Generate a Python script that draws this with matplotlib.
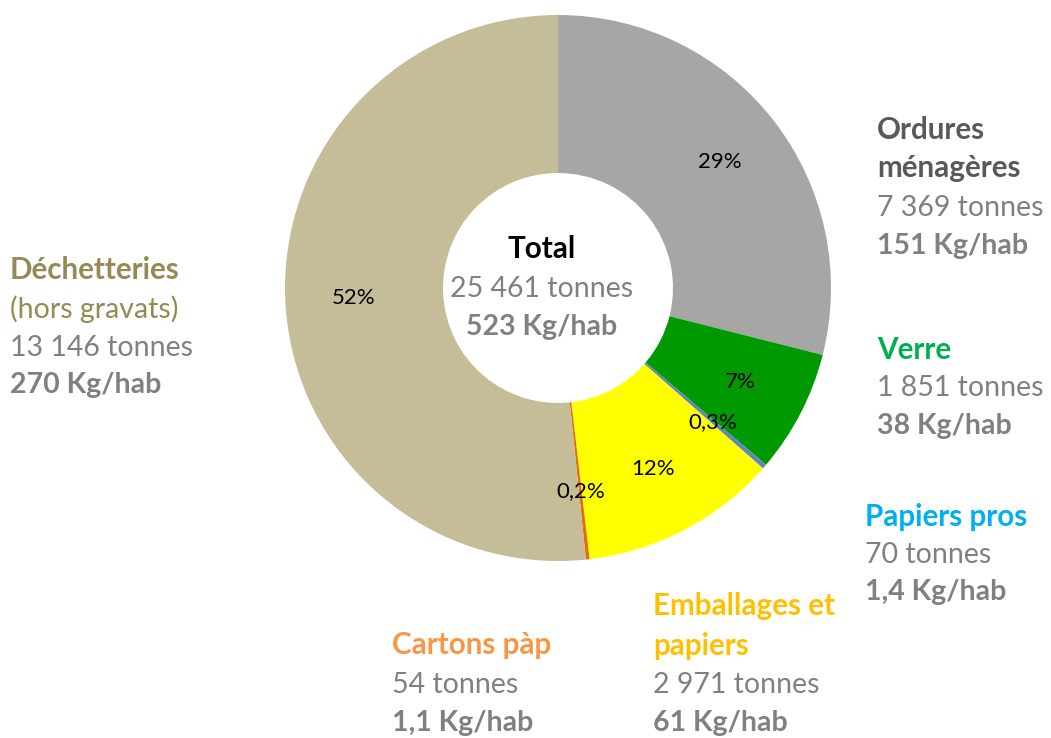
import matplotlib
matplotlib.use("Agg")
import matplotlib.pyplot as plt
import numpy as np

# data, in clockwise order starting from the top
categories = ["Ordures ménagères", "Verre", "Papiers pros",
              "Emballages et papiers", "Cartons pàp", "Déchetteries"]
tonnes = [7369, 1851, 70, 2971, 54, 13146]
kg_hab = ["151", "38", "1,4", "61", "1,1", "270"]
wedge_colors = ["#A6A6A6", "#009A00", "#5B87BE", "#FFFF00", "#E46C0A", "#C4BD97"]

total_tonnes = "25 461 tonnes"
total_kg = "523 Kg/hab"

plt.rcParams["font.family"] = ["Lato", "DejaVu Sans"]

W, H = 1051, 738
fig = plt.figure(figsize=(W / 100, H / 100), dpi=100)

# donut: centre (558, 288) px, outer radius 273 px, inner radius 115 px
cx, cy, r_out, r_in = 558, 288, 273, 115
ax = fig.add_axes([(cx - r_out) / W, (H - cy - r_out) / H, 2 * r_out / W, 2 * r_out / H])


def pct_fmt(p):
    if p < 1:
        return ("%.1f%%" % p).replace(".", ",")
    return "%d%%" % round(p)


wedges, _, autotexts = ax.pie(
    tonnes, colors=wedge_colors, startangle=90, counterclock=False,
    radius=1, autopct=pct_fmt, pctdistance=0.75,
    wedgeprops=dict(width=1 - r_in / r_out, linewidth=0),
    textprops=dict(fontsize=16, color="black"),
)
ax.set_xlim(-1, 1)
ax.set_ylim(-1, 1)
ax.set_aspect("equal")
ax.axis("off")


def fmt_thousands(v):
    return "{:,}".format(v).replace(",", " ")


def put_lines(x, ys, lines, ha="left"):
    # lines: list of (text, color, weight, size)
    for y, (txt, col, wt, fs) in zip(ys, lines):
        fig.text(x / W, 1 - y / H, txt, color=col, fontweight=wt,
                 fontsize=fs, ha=ha, va="center")


grey = "#808080"
big, norm = 21.3, 20.5


def block(title_lines, color, i, title_weights=None):
    weights = title_weights or ["bold"] * len(title_lines)
    lines = [(t, color, w, big if w == "bold" else norm)
             for t, w in zip(title_lines, weights)]
    lines.append((fmt_thousands(tonnes[i]) + " tonnes", grey, "normal", norm))
    lines.append((kg_hab[i] + " Kg/hab", grey, "bold", norm))
    return lines


# centre label
put_lines(542, [249, 289, 327], [
    ("Total", "black", "bold", big),
    (total_tonnes, grey, "normal", norm),
    (total_kg, grey, "bold", norm),
], ha="center")

put_lines(877, [130, 168, 208, 246], block(["Ordures", "ménagères"], "#595959", 0))
put_lines(877, [350, 388, 426], block(["Verre"], "#00B050", 1))
put_lines(865, [517, 555, 592], block(["Papiers pros"], "#00B0F0", 2))
put_lines(653, [606, 646, 685, 723], block(["Emballages et", "papiers"], "#FFC000", 3))
put_lines(392, [645, 685, 723], block(["Cartons pàp"], "#F79646", 4))
put_lines(10, [270, 309, 348, 385],
          block(["Déchetteries", "(hors gravats)"], "#948A54", 5, ["bold", "normal"]))

fig.savefig("out.png", dpi=100, facecolor="white")
